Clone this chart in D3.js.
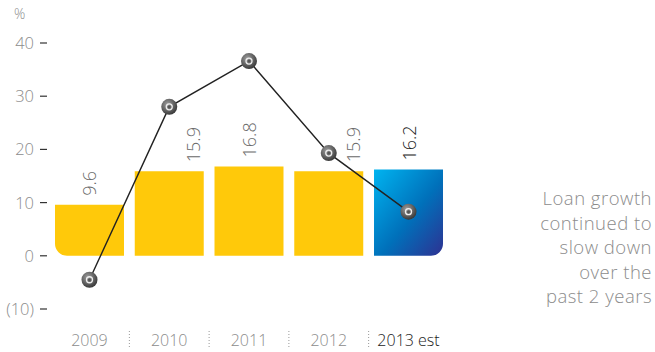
<!DOCTYPE html>
<html>
<head>
<meta charset="utf-8">
<script src="https://cdn.jsdelivr.net/npm/d3@7"></script>
<style>
  body { margin: 0; background: #fff; }
  svg text { font-family: "Open Sans", Lato, sans-serif; font-weight: 300; }
</style>
</head>
<body>
<svg id="chart" width="655" height="352"></svg>
<script>
var years = ["2009", "2010", "2011", "2012", "2013 est"];
var barValues = [9.6, 15.9, 16.8, 15.9, 16.2];
var lineValues = [-4.5, 28.0, 36.6, 19.3, 8.3];
var tickValues = [-10, 0, 10, 20, 30, 40];
var noteLines = ["Loan growth", "continued to", "slow down", "over the", "past 2 years"];

var svg = d3.select("#chart");

var x = d3.scaleBand()
  .domain(years)
  .range([55, 443])
  .paddingInner(0.135)
  .paddingOuter(0);

var y = d3.scaleLinear()
  .domain([-10, 40])
  .range([309, 43]);

var last = years.length - 1;
function cx(i) { return x(years[i]) + x.bandwidth() / 2; }

var defs = svg.append("defs");
var blue = defs.append("linearGradient")
  .attr("id", "blueGrad")
  .attr("x1", "0").attr("y1", "0").attr("x2", "1").attr("y2", "1");
blue.append("stop").attr("offset", "0%").attr("stop-color", "#00b4f0");
blue.append("stop").attr("offset", "55%").attr("stop-color", "#0070ba");
blue.append("stop").attr("offset", "100%").attr("stop-color", "#2e3192");

var ball = defs.append("radialGradient")
  .attr("id", "ballGrad")
  .attr("cx", "40%").attr("cy", "35%").attr("r", "65%");
ball.append("stop").attr("offset", "0%").attr("stop-color", "#a0a0a0");
ball.append("stop").attr("offset", "100%").attr("stop-color", "#3a3a3a");

// y axis: short dashes plus labels
var yAxis = svg.append("g");
tickValues.forEach(function(t) {
  yAxis.append("line")
    .attr("x1", 40).attr("x2", 47)
    .attr("y1", y(t)).attr("y2", y(t))
    .attr("stroke", "#333").attr("stroke-width", 1.2);
  yAxis.append("text")
    .attr("x", 34).attr("y", y(t) + 6)
    .attr("text-anchor", "end")
    .attr("font-size", 16.5)
    .attr("fill", "#8c8c8c")
    .text(t < 0 ? "(" + Math.abs(t) + ")" : t);
});
svg.append("text")
  .attr("x", 14).attr("y", 19)
  .attr("font-size", 14).attr("fill", "#8c8c8c")
  .text("%");

// bars, first one rounded bottom-left, last one rounded bottom-right
function barPath(d, i) {
  var x0 = x(years[i]), x1 = x0 + x.bandwidth();
  var top = y(d), bot = y(0), r = 12;
  if (i === 0) {
    return "M" + x0 + "," + top + "H" + x1 + "V" + bot + "H" + (x0 + r) +
      "A" + r + "," + r + " 0 0 1 " + x0 + "," + (bot - r) + "Z";
  }
  if (i === last) {
    return "M" + x0 + "," + top + "H" + x1 + "V" + (bot - r) +
      "A" + r + "," + r + " 0 0 1 " + (x1 - r) + "," + bot + "H" + x0 + "Z";
  }
  return "M" + x0 + "," + top + "H" + x1 + "V" + bot + "H" + x0 + "Z";
}

svg.selectAll(".bar")
  .data(barValues)
  .enter().append("path")
  .attr("class", "bar")
  .attr("d", barPath)
  .attr("fill", function(d, i) { return i === last ? "url(#blueGrad)" : "#ffc90a"; });

// value labels, rotated; nudged right when a line marker sits on them
svg.selectAll(".val")
  .data(barValues)
  .enter().append("text")
  .attr("class", "val")
  .attr("transform", function(d, i) {
    var bottom = y(d) - 9;
    var my = y(lineValues[i]);
    var shift = (my < bottom && my > bottom - 65) ? 24 : 0;
    return "translate(" + (cx(i) + 7 + shift) + "," + bottom + ") rotate(-90)";
  })
  .attr("font-size", 18)
  .attr("fill", function(d, i) { return i === last ? "#222" : "#6a6a6a"; })
  .text(function(d) { return d.toFixed(1); });

// line
var line = d3.line()
  .x(function(d, i) { return cx(i); })
  .y(function(d) { return y(d); });

svg.append("path")
  .datum(lineValues)
  .attr("d", line)
  .attr("fill", "none")
  .attr("stroke", "#222")
  .attr("stroke-width", 1.4);

var dots = svg.selectAll(".dot")
  .data(lineValues)
  .enter().append("g")
  .attr("class", "dot")
  .attr("transform", function(d, i) { return "translate(" + cx(i) + "," + y(d) + ")"; });
dots.append("circle").attr("r", 8).attr("fill", "url(#ballGrad)");
dots.append("circle").attr("r", 3).attr("fill", "none").attr("stroke", "#eee").attr("stroke-width", 1.3);
dots.append("circle").attr("r", 1.5).attr("fill", "#555");

// x labels + dotted separators
svg.selectAll(".xl")
  .data(years)
  .enter().append("text")
  .attr("class", "xl")
  .attr("x", function(d, i) { return cx(i); })
  .attr("y", 346)
  .attr("text-anchor", "middle")
  .attr("font-size", 16)
  .attr("fill", function(d, i) { return i === last ? "#222" : "#8c8c8c"; })
  .text(function(d) { return d; });

svg.selectAll(".sep")
  .data(years.slice(1))
  .enter().append("line")
  .attr("class", "sep")
  .attr("x1", function(d) { return x(d) - x.step() * x.paddingInner() / 2; })
  .attr("x2", function(d) { return x(d) - x.step() * x.paddingInner() / 2; })
  .attr("y1", 331).attr("y2", 348)
  .attr("stroke", "#999")
  .attr("stroke-dasharray", "1,2");

// side note
svg.selectAll(".note")
  .data(noteLines)
  .enter().append("text")
  .attr("class", "note")
  .attr("x", 652)
  .attr("y", function(d, i) { return 205 + i * 24.5; })
  .attr("text-anchor", "end")
  .attr("font-size", 18.5)
  .attr("letter-spacing", 0.5)
  .attr("fill", "#8c8c8c")
  .text(function(d) { return d; });
</script>
</body>
</html>
